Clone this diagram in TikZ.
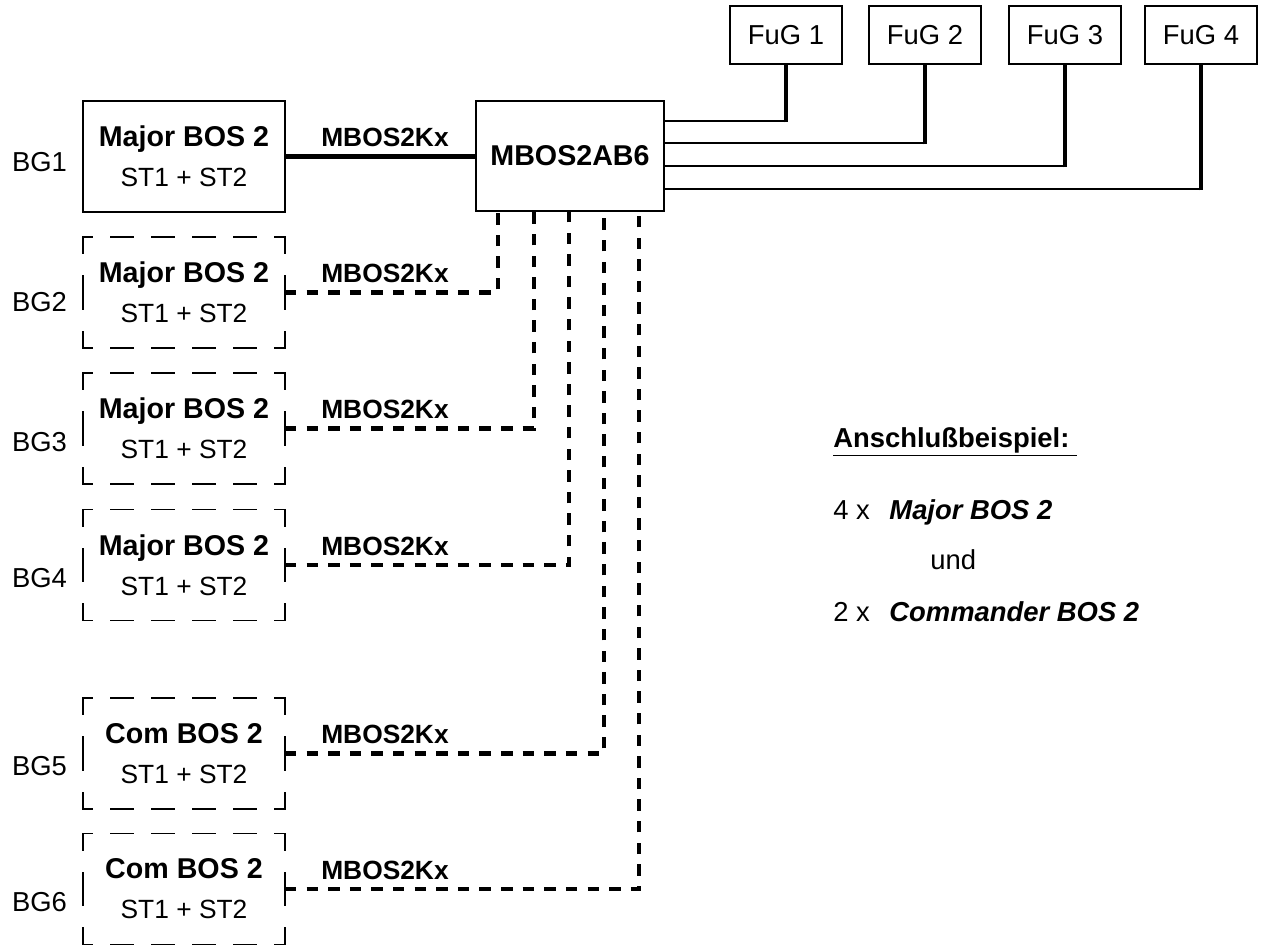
\documentclass[tikz,border=0pt]{standalone}
\usepackage{fontspec}
\setmainfont{Liberation Sans}
\usetikzlibrary{positioning}

\newcommand\unitname[1]{{\fontsize{16.3}{22.7}\selectfont\bfseries #1}}

\begin{document}
\begin{tikzpicture}[x=0.02cm, y=-0.02cm,
  unit/.style={minimum width=4.04cm,minimum height=2.22cm,outer sep=0pt,inner sep=0pt,align=center,font=\fontsize{15}{22.7}\selectfont},
  hub/.style={draw,line width=1.1pt,minimum width=3.76cm,minimum height=2.2cm,outer sep=0pt,font=\fontsize{16.3}{19}\selectfont\bfseries},
  fug/.style={draw,line width=1.1pt,minimum width=2.24cm,minimum height=1.16cm,outer sep=0pt,font=\fontsize{15.6}{19}\selectfont},
  tag/.style={font=\fontsize{15.6}{19}\selectfont},
  kx/.style={font=\fontsize{15}{18}\selectfont\bfseries},
  note/.style={anchor=base west,inner sep=0pt,font=\fontsize{15.6}{19}\selectfont},
  hdash/.style={line width=1.1pt,line cap=rect,dash pattern=on 0.18cm off 0.38cm on 0.44cm off 0.38cm on 0.44cm off 0.38cm on 0.44cm off 0.38cm on 0.44cm off 0.38cm on 0.18cm off 1cm},
  vdash/.style={line width=1.1pt,line cap=rect,dash pattern=on 0.33cm off 0.45cm on 0.66cm off 0.45cm on 0.33cm off 1cm},
  solidline/.style={line width=2.4pt},
  dottedline/.style={line width=2.6pt,dash pattern=on 6.5pt off 5.8pt},
  fugh/.style={line width=1.6pt,shorten >=-1.35pt},
  fugv/.style={line width=2.7pt,shorten <=-0.8pt}]
  \useasboundingbox (0,0) rectangle (1263,946);

  \node[hub] (ab6) at (570,156) {MBOS2AB6};

  \node[unit,draw,line width=1.1pt] (b1) at (184,156.5) {\unitname{Major BOS 2}\\ST1 + ST2};
  \node[tag] (g1) at (39.5,162) {BG1};
  \draw[solidline] (b1.east) -- (b1.east -| ab6.west);
  \path (b1.east) ++(100,-19) node[kx] (kx1) {MBOS2Kx};

  \foreach \i/\y/\ly/\nm/\x in {2/292.5/302/Major/498, 3/428.5/442/Major/534, 4/565/578/Major/569, 5/753.5/766/Com/604, 6/889/902/Com/639}{
    \node[unit] (b\i) at (184,\y) {\unitname{\nm\ BOS 2}\\ST1 + ST2};
    \draw[hdash] (b\i.north west) -- (b\i.north east);
    \draw[hdash] (b\i.south west) -- (b\i.south east);
    \draw[vdash] (b\i.north west) -- (b\i.south west);
    \draw[vdash] (b\i.north east) -- (b\i.south east);
    \node[tag] (g\i) at (39.5,\ly) {BG\i};
    \coordinate (d\i) at (\x,0 |- ab6.south);
    \draw[dottedline] (b\i.east) -| (d\i);
    \path (b\i.east) ++(100,-19) node[kx] (kx\i) {MBOS2Kx};
  }

  \foreach \i/\x/\y in {1/786/121, 2/925/143, 3/1065/166, 4/1201/189}{
    \node[fug] (fug\i) at (\x,35) {FuG \i};
    \coordinate (f\i) at (fug\i.south |- 0,\y);
    \draw[fugh] (ab6.east |- f\i) -- (f\i);
    \draw[fugv] (f\i) -- (fug\i);
  }

  \node[note] (ex) at (833,447) {\textbf{\underline{Anschlußbeispiel:\ }}};
  \node[note] (ex1) at (833,519) {4 x\hspace{0.39cm}\textbf{\textit{Major BOS 2}}};
  \node[note] (ex2) at (930,569) {und};
  \node[note] (ex3) at (833,621) {2 x\hspace{0.39cm}\textbf{\textit{Commander BOS 2}}};
\end{tikzpicture}
\end{document}
